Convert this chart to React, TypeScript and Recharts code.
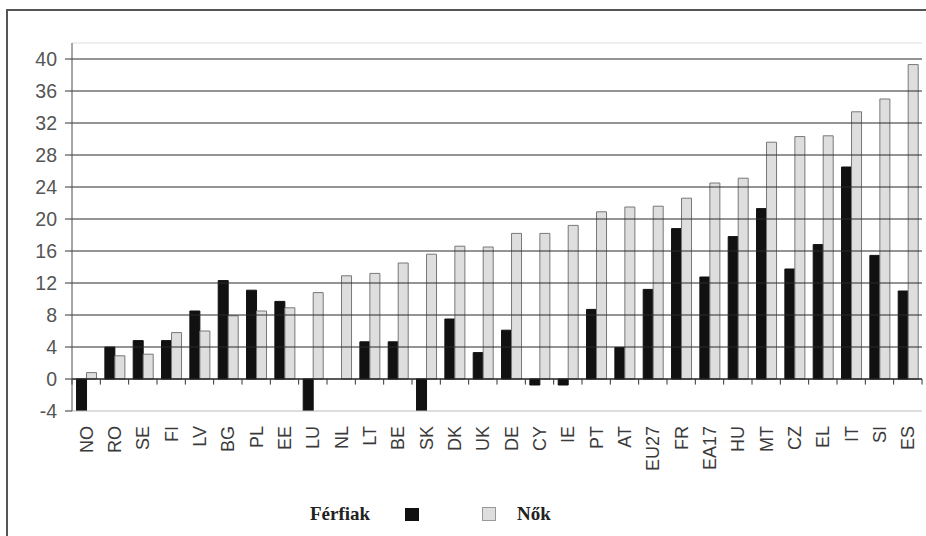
import React from 'react';
import { BarChart, Bar, XAxis, YAxis, ReferenceLine } from 'recharts';

const categories = ['NO','RO','SE','FI','LV','BG','PL','EE','LU','NL','LT','BE','SK','DK','UK','DE','CY','IE','PT','AT','EU27','FR','EA17','HU','MT','CZ','EL','IT','SI','ES'];
const men = [-4, 4, 4.8, 4.8, 8.5, 12.3, 11.1, 9.7, -4.3, 0, 4.65, 4.65, -4.3, 7.5, 3.3, 6.1, -0.75, -0.75, 8.7, 3.95, 11.2, 18.8, 12.75, 17.8, 21.3, 13.75, 16.8, 26.5, 15.45, 11.0];
const women = [0.8, 2.9, 3.1, 5.8, 6.0, 7.9, 8.5, 8.9, 10.8, 12.9, 13.2, 14.5, 15.6, 16.6, 16.5, 18.2, 18.2, 19.2, 20.9, 21.5, 21.6, 22.6, 24.5, 25.1, 29.6, 30.3, 30.4, 33.4, 35.0, 39.3];
const yTicks = [-4, 0, 4, 8, 12, 16, 20, 24, 28, 32, 36, 40];
const yTop = 42;

const series = [
  { key: 'men', name: 'Férfiak', fill: '#111111', stroke: '#111111' },
  { key: 'women', name: 'Nők', fill: '#dedede', stroke: '#777777' },
];

const data = categories.map((c, i) => ({ cat: c, men: men[i], women: women[i] }));

const XTick = (props: any) => {
  const { x, y, payload } = props;
  return (
    <g transform={`translate(${x},${y})`}>
      <text
        transform="rotate(-90)"
        x={-15}
        y={0}
        dy="0.36em"
        textAnchor="end"
        fill="#3a3a3a"
        fontSize={18}
        fontFamily="'Liberation Sans', Arial, sans-serif"
      >
        {payload.value}
      </text>
    </g>
  );
};

export default function App() {
  return (
    <div style={{ position: 'absolute', left: 0, top: 0, width: 926, height: 536, background: '#fff', overflow: 'hidden' }}>
      <div style={{ position: 'absolute', left: 6, top: 9, width: 930, height: 540, borderLeft: '2px solid #555', borderTop: '2px solid #555' }} />
      <div style={{ position: 'absolute', left: 0, top: 0 }}>
        <BarChart
          width={926}
          height={536}
          data={data}
          margin={{ top: 43, right: 4, bottom: 0, left: 0 }}
          barCategoryGap="16%"
          barGap={0}
        >
          <XAxis
            dataKey="cat"
            axisLine={false}
            tickLine={false}
            tickSize={0}
            tickMargin={0}
            height={125}
            interval={0}
            tick={<XTick />}
          />
          <YAxis
            domain={[-4, yTop]}
            ticks={yTicks}
            allowDataOverflow
            width={72}
            axisLine={{ stroke: '#445544', strokeWidth: 1 }}
            tickLine={{ stroke: '#333', strokeWidth: 1 }}
            tickSize={7}
            tickMargin={8}
            tick={{ fill: '#555', fontSize: 19.5, fontFamily: "'Liberation Sans', Arial, sans-serif" }}
          />
          <ReferenceLine y={yTop} stroke="#dddddd" strokeWidth={1} />
          {yTicks.filter((t) => t > 0).map((t) => (
            <ReferenceLine key={t} y={t} stroke="#2a2a2a" strokeWidth={1.2} />
          ))}
          <ReferenceLine y={-4} stroke="#bbbbbb" strokeWidth={1} />
          {series.map((s) => (
            <Bar key={s.key} dataKey={s.key} name={s.name} fill={s.fill} stroke={s.stroke} strokeWidth={1} isAnimationActive={false} />
          ))}
          <ReferenceLine y={0} stroke="#222" strokeWidth={1.3} />
          {categories.map((c) => (
            <ReferenceLine key={'t' + c} segment={[{ x: c, y: 0 }, { x: c, y: -0.7 }]} position="start" stroke="#333" strokeWidth={1} />
          ))}
          <ReferenceLine segment={[{ x: categories[categories.length - 1], y: 0 }, { x: categories[categories.length - 1], y: -0.7 }]} position="end" stroke="#333" strokeWidth={1} />
        </BarChart>
      </div>
      <div style={{ position: 'absolute', left: 310, top: 503, display: 'flex', alignItems: 'center', fontFamily: "'Liberation Serif', 'Times New Roman', serif", fontWeight: 'bold', fontSize: 19, color: '#222' }}>
        <span style={{ width: 95 }}>{series[0].name}</span>
        <span style={{ display: 'inline-block', width: 14, height: 13, background: series[0].fill, marginRight: 63 }} />
        <span style={{ display: 'inline-block', width: 12, height: 12, background: series[1].fill, border: '1px solid #999', marginRight: 21 }} />
        <span>{series[1].name}</span>
      </div>
    </div>
  );
}
